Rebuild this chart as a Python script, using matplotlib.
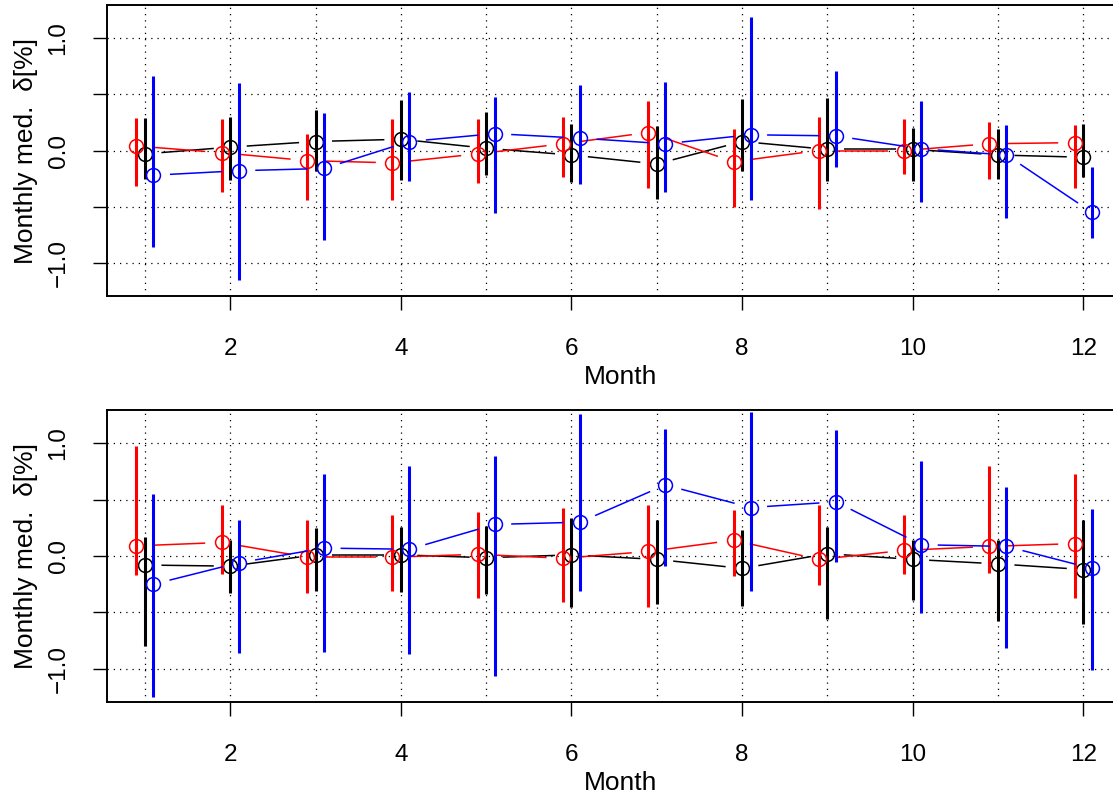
import numpy as np
import matplotlib
matplotlib.use("Agg")
import matplotlib.pyplot as plt

plt.rcParams["font.family"] = ["Liberation Sans", "DejaVu Sans"]

MONTHS = np.arange(1, 13)
OFFSETS = {"red": -0.1, "black": 0.0, "blue": 0.1}

# upper panel: median and lower/upper bounds per month
TOP_MED = {
    "red":   [0.04, -0.02, -0.09, -0.11, -0.03, 0.06, 0.16, -0.10, 0.00, 0.00, 0.06, 0.07],
    "black": [-0.03, 0.03, 0.08, 0.10, 0.02, -0.04, -0.12, 0.08, 0.01, 0.01, -0.04, -0.06],
    "blue":  [-0.22, -0.18, -0.16, 0.08, 0.15, 0.11, 0.06, 0.14, 0.13, 0.015, -0.04, -0.55],
}
TOP_LO = {
    "red":   [-0.32, -0.37, -0.44, -0.44, -0.29, -0.24, -0.33, -0.50, -0.52, -0.21, -0.25, -0.33],
    "black": [-0.25, -0.26, -0.18, -0.26, -0.22, -0.28, -0.43, -0.18, -0.27, -0.27, -0.25, -0.24],
    "blue":  [-0.86, -1.15, -0.80, -0.27, -0.56, -0.30, -0.37, -0.44, -0.15, -0.46, -0.60, -0.78],
}
TOP_HI = {
    "red":   [0.29, 0.28, 0.15, 0.28, 0.28, 0.30, 0.44, 0.19, 0.30, 0.28, 0.25, 0.23],
    "black": [0.29, 0.30, 0.36, 0.45, 0.34, 0.24, 0.22, 0.46, 0.47, 0.20, 0.19, 0.24],
    "blue":  [0.66, 0.60, 0.33, 0.52, 0.48, 0.58, 0.61, 1.19, 0.71, 0.44, 0.23, -0.15],
}

# lower panel
BOT_MED = {
    "red":   [0.09, 0.12, -0.01, -0.01, 0.015, -0.02, 0.04, 0.14, -0.03, 0.05, 0.085, 0.11],
    "black": [-0.08, -0.09, 0.01, 0.01, -0.015, 0.01, -0.03, -0.11, 0.02, -0.03, -0.07, -0.12],
    "blue":  [-0.25, -0.06, 0.07, 0.06, 0.28, 0.30, 0.63, 0.43, 0.48, 0.10, 0.085, -0.11],
}
BOT_LO = {
    "red":   [-0.17, -0.16, -0.33, -0.31, -0.37, -0.41, -0.45, -0.18, -0.26, -0.16, -0.15, -0.37],
    "black": [-0.80, -0.33, -0.31, -0.32, -0.34, -0.45, -0.43, -0.44, -0.56, -0.39, -0.58, -0.60],
    "blue":  [-1.25, -0.86, -0.85, -0.87, -1.06, -0.31, -0.09, -0.31, -0.05, -0.51, -0.82, -1.01],
}
BOT_HI = {
    "red":   [0.98, 0.45, 0.32, 0.36, 0.39, 0.43, 0.45, 0.41, 0.45, 0.36, 0.80, 0.73],
    "black": [0.17, 0.14, 0.25, 0.26, 0.27, 0.34, 0.32, 0.23, 0.26, 0.14, 0.14, 0.32],
    "blue":  [0.55, 0.32, 0.73, 0.80, 0.89, 1.26, 1.13, 1.28, 1.12, 0.84, 0.61, 0.42],
}

XTICKS = [2, 4, 6, 8, 10, 12]
YTICKS = [-1.0, -0.5, 0.0, 0.5, 1.0]
YTICKLABELS = ["\u22121.0", "", "0.0", "", "1.0"]
YLABEL = "Monthly med.  \u03b4[%]"
XLABEL = "Month"

COLORS = {"red": "#FF0000", "black": "#000000", "blue": "#0000FF"}
W, H = 1113, 798


def gapped_line(ax, xs, ys, color, gap_px=16.5):
    """R type='b' look: connect the points but leave a gap around each one."""
    pts = ax.transData.transform(np.column_stack([xs, ys]))
    inv = ax.transData.inverted()
    for p0, p1 in zip(pts[:-1], pts[1:]):
        d = p1 - p0
        n = np.hypot(*d)
        if n <= 2 * gap_px:
            continue
        u = d / n
        a, b = inv.transform([p0 + u * gap_px, p1 - u * gap_px])
        ax.plot([a[0], b[0]], [a[1], b[1]], color=color, lw=1.1,
                solid_capstyle="butt")


def panel(ax, med, lo, hi):
    ax.set_xlim(0.555, 12.6)
    ax.set_ylim(-1.295, 1.295)
    for x in MONTHS:
        ax.axvline(x, color="black", lw=0.9, ls=(0, (1, 4)), zorder=0)
    for y in YTICKS:
        ax.axhline(y, color="black", lw=0.9, ls=(0, (1, 4)), zorder=0)
    for key in ("black", "red", "blue"):
        xs = MONTHS + OFFSETS[key]
        col = COLORS[key]
        gapped_line(ax, xs, med[key], col)
        ax.vlines(xs, lo[key], hi[key], color=col, lw=2.2)
        ax.plot(xs, med[key], "o", mfc="none", mec=col, ms=10, mew=1.1)
    ax.set_xticks(XTICKS)
    ax.set_xticklabels([str(t) for t in XTICKS])
    ax.set_yticks(YTICKS)
    ax.set_yticklabels(YTICKLABELS, rotation=90, va="center")
    ax.tick_params(direction="out", length=10, width=1.0, labelsize=17.5)
    ax.tick_params(axis="x", pad=20)
    ax.tick_params(axis="y", pad=17)
    for s in ax.spines.values():
        s.set_linewidth(1.4)
    ax.set_xlabel(XLABEL, fontsize=19, labelpad=4)
    ax.set_ylabel(YLABEL, fontsize=19, labelpad=7)


fig = plt.figure(figsize=(W / 100, H / 100), dpi=100)
ax_w = (12.6 - 0.555) * 85.3 / W
ax1 = fig.add_axes([107 / W, (H - 296) / H, ax_w, 291 / H])
ax2 = fig.add_axes([107 / W, (H - 702) / H, ax_w, 292 / H])
panel(ax1, TOP_MED, TOP_LO, TOP_HI)
panel(ax2, BOT_MED, BOT_LO, BOT_HI)

fig.savefig("out.png", dpi=100)
